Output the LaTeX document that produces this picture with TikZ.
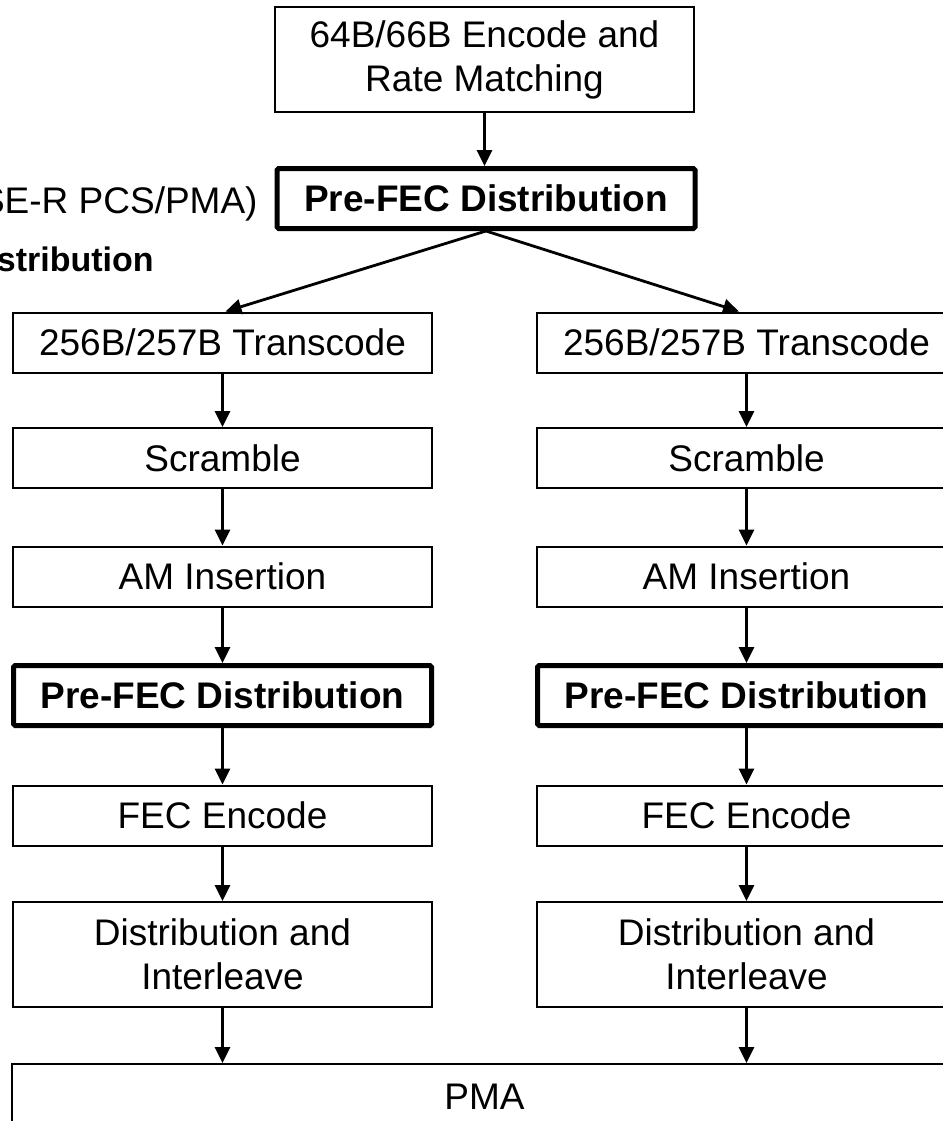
\documentclass[tikz,border=0pt]{standalone}
\usepackage{fontspec}
\setmainfont{Liberation Sans}
\usetikzlibrary{arrows.meta}

\begin{document}
\begin{tikzpicture}[x=0.5pt,y=-0.5pt,
	blk/.style={draw, line width=1pt, minimum width=209.5pt, minimum height=30pt, inner sep=0pt, align=center, font=\fontsize{18.5}{22}\selectfont},
	tall/.style={blk, minimum height=52.5pt},
	pfd/.style={blk, line width=2.5pt, rounded corners=0.8pt, minimum width=209pt, font=\fontsize{18.5}{22}\selectfont\bfseries},
	arr/.style={-{Triangle[length=8pt,width=7.5pt]}, line width=1.4pt}]
	\useasboundingbox (0,0) rectangle (943,1121);
	\clip (0,0) rectangle (943,1121);

	\node[tall] (enc) at (484.5,59.5) {64B/66B Encode and\\Rate Matching};
	\node[pfd] (pre0) at (486,198.5) {Pre-FEC Distribution};
	\node[anchor=base east, inner sep=0pt, font=\fontsize{18.5}{22}\selectfont] (pcs) at (258,213) {SE-R PCS/PMA)};
	\node[anchor=base east, inner sep=0pt, font=\fontsize{17}{20}\selectfont\bfseries] (dist) at (154,271) {stribution};

	% two lanes, left and right
	\foreach \c/\x in {L/222.5, R/746.5} {
		\node[blk] (tc\c) at (\x,342.5) {256B/257B Transcode};
		\node[blk] (scr\c) at (\x,458) {Scramble};
		\node[blk] (am\c) at (\x,576.5) {AM Insertion};
		\node[pfd] (pre\c) at (\x,695.5) {Pre-FEC Distribution};
		\node[blk] (fec\c) at (\x,815.5) {FEC Encode};
		\node[tall] (dil\c) at (\x,954.5) {Distribution and\\Interleave};
	}
	\node[blk, minimum width=472.5pt, minimum height=33pt] (pma) at (484.5,1097) {PMA};

	\draw[arr] (enc.south) -- (enc.south |- pre0.north);
	\draw[arr] (pre0.south) -- ([xshift=1.5pt]tcL.north);
	\draw[arr] (pre0.south) -- ([xshift=-3.75pt]tcR.north);
	\foreach \c in {L,R} {
		\draw[arr] (tc\c) -- (scr\c);
		\draw[arr] (scr\c) -- (am\c);
		\draw[arr] (am\c) -- (pre\c);
		\draw[arr] (pre\c) -- (fec\c);
		\draw[arr] (fec\c) -- (dil\c);
		\draw[arr] (dil\c) -- (dil\c |- pma.north);
	}
\end{tikzpicture}
\end{document}
